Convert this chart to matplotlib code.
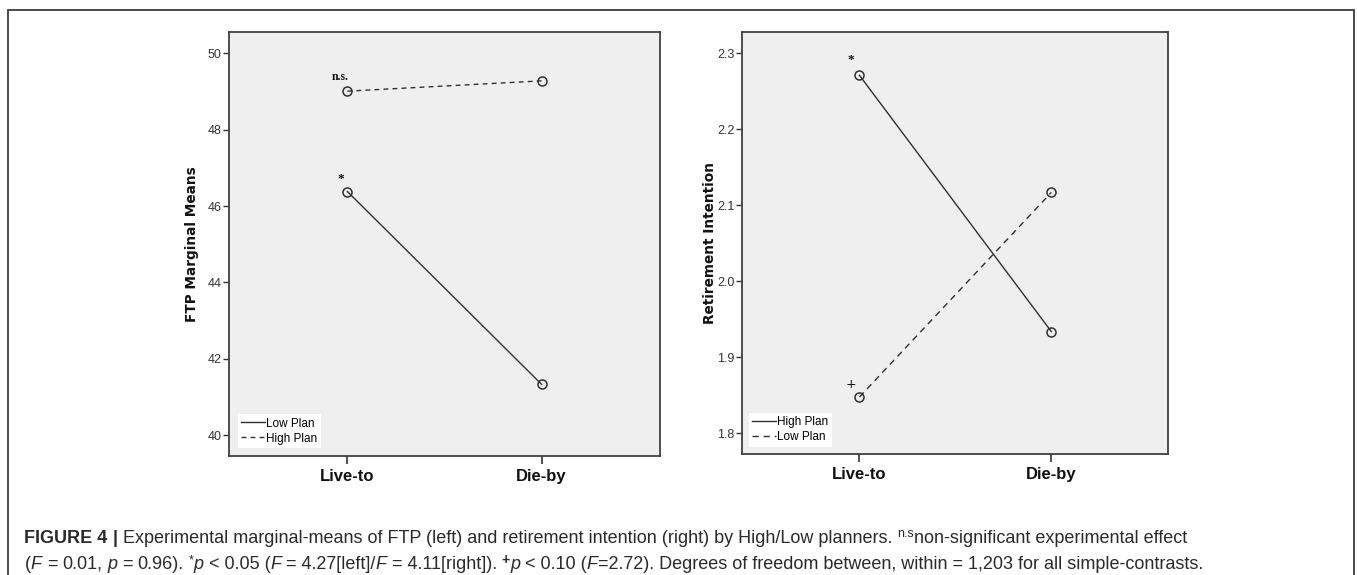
import matplotlib
matplotlib.use("Agg")
import matplotlib.pyplot as plt
from matplotlib.patches import Rectangle

# values
conditions = ["Live-to", "Die-by"]
ftp_low_plan = [46.38, 41.33]
ftp_high_plan = [49.01, 49.28]
ret_high_plan = [2.271, 1.934]
ret_low_plan = [1.848, 2.117]
ftp_ticks = [40, 42, 44, 46, 48, 50]
ret_ticks = [1.8, 1.9, 2.0, 2.1, 2.2, 2.3]

W, H = 1357, 575
NARROW = ['Liberation Sans Narrow', 'Liberation Sans', 'DejaVu Sans']
INK = '#2a2a2a'
LINE = '#303030'

fig = plt.figure(figsize=(W / 100, H / 100), dpi=100)

# outer frame of the figure panel
fig.patches.append(Rectangle((8 / W, -0.02), (1354 - 8) / W, 1.02 - 10 / H,
                             transform=fig.transFigure, fill=False,
                             edgecolor='#3a3a3a', lw=1.3))

ax1 = fig.add_axes([229 / W, 1 - 455.7 / H, 431 / W, 423.7 / H])
ax2 = fig.add_axes([742.4 / W, 1 - 454 / H, 426 / W, 422 / H])


def style_axes(ax, ticks, ylim, ylabel, labelx):
    ax.set_facecolor('#efefef')
    ax.set_xlim(-0.61, 1.61)
    ax.set_ylim(*ylim)
    for s in ax.spines.values():
        s.set_color('#404040')
        s.set_linewidth(1.3)
    ax.set_yticks(ticks, labels=[f"{t:g}" if t != 2.0 else "2.0" for t in ticks],
                  fontfamily=NARROW, fontsize=9, color='#333333')
    ax.set_xticks(range(len(conditions)), labels=conditions,
                  fontfamily=NARROW, fontweight='bold', fontsize=12, color='#111111')
    ax.tick_params(axis='y', length=4, width=1, color='#333333', pad=1.5)
    ax.tick_params(axis='x', length=5.5, width=1.2, color='#333333', pad=4)
    ax.set_ylabel(ylabel, fontweight='bold', fontsize=9.8, color='#111111',
                  family='DejaVu Sans')
    ax.yaxis.set_label_coords(labelx, 0.5)


style_axes(ax1, ftp_ticks, (39.46, 50.56), "FTP Marginal Means", -0.07)
style_axes(ax2, ret_ticks, (1.773, 2.328), "Retirement Intention", -0.06)

x = list(range(len(conditions)))
mk = dict(marker='o', markersize=6.5, markerfacecolor='none',
          markeredgecolor=LINE, markeredgewidth=1.1, color=LINE, lw=1.0)

ax1.plot(x, ftp_low_plan, linestyle='-', label="Low Plan", **mk)
ax1.plot(x, ftp_high_plan, linestyle=(0, (3.5, 3)), label="High Plan", **mk)
ax2.plot(x, ret_high_plan, linestyle='-', label="High Plan", **mk)
ax2.plot(x, ret_low_plan, linestyle=(0, (4.5, 3.5)), label="Low Plan", **mk)

for ax, bx, by in [(ax1, 0.02, 0.018), (ax2, 0.015, 0.017)]:
    leg = ax.legend(loc='lower left', bbox_to_anchor=(bx, by), borderaxespad=0,
                    handlelength=2.0, handletextpad=0.1, labelspacing=0.25,
                    borderpad=0.3, fancybox=False, framealpha=1,
                    prop={'family': NARROW, 'size': 8.5})
    leg.get_frame().set_edgecolor('white')
    leg.get_frame().set_linewidth(0)
    for line in leg.get_lines():
        line.set_marker('')

# significance marks
ax1.annotate("n.s.", (x[0], ftp_high_plan[0]), xytext=(-5, 10), textcoords='offset points',
             ha='center', va='center', fontsize=8.5, fontweight='bold',
             family='Liberation Serif', color='#111111')
ax1.annotate("*", (x[0], ftp_low_plan[0]), xytext=(-5, 9), textcoords='offset points',
             ha='center', va='center', fontsize=9.5, fontweight='bold',
             family='Liberation Serif', color='#111111')
ax2.annotate("*", (x[0], ret_high_plan[0]), xytext=(-6.5, 11), textcoords='offset points',
             ha='center', va='center', fontsize=9.5, fontweight='bold',
             family='Liberation Serif', color='#111111')
ax2.annotate("+", (x[0], ret_low_plan[0]), xytext=(-6, 9), textcoords='offset points',
             ha='center', va='center', fontsize=9, family='DejaVu Sans', color='#111111')

# caption, laid out piece by piece
fig.canvas.draw()
renderer = fig.canvas.get_renderer()


def text_width(s, kw):
    t = fig.text(0, 0, s, **kw)
    w = t.get_window_extent(renderer).width
    t.remove()
    return w


def advance(s, kw):
    return text_width("|" + s + "|", kw) - text_width("||", kw)


def put_runs(x0, base, runs):
    xpos = x0
    for s, kw, dy in runs:
        full = dict(family=NARROW, fontsize=13, color=INK, va='baseline', ha='left')
        full.update(kw)
        lead = s[:len(s) - len(s.lstrip())]
        xl = xpos + (advance(lead, full) if lead else 0)
        fig.text(xl / W, (base + dy) / H, s.strip(), **full)
        xpos += advance(s, full)


B = dict(fontweight='bold')
N = dict()
I = dict(style='italic')
S = dict(fontsize=9)

put_runs(24.5, 32.3, [
    ("FIGURE 4 ", B, 0), ("| ", B, 0),
    ("Experimental marginal-means of FTP (left) and retirement intention (right) by High/Low planners. ", N, 0),
    ("n.s", S, 6), ("non-significant experimental effect", N, 0),
])
put_runs(24.5, 6.3, [
    ("(", N, 0), ("F", I, 0), (" = ", N, 0), ("0.01, ", N, 0), ("p", I, 0),
    (" = ", N, 0), ("0.96). ", N, 0), ("*", S, 5), ("p", I, 0), (" < 0.05 (", N, 0),
    ("F", I, 0), (" = 4.27[left]/", N, 0), ("F", I, 0), (" = 4.11[right]). ", N, 0),
    ("+", dict(fontsize=10, fontweight='bold'), 5), ("p", I, 0), (" < 0.10 (", N, 0),
    ("F", I, 0), ("=2.72). Degrees of freedom between, within = 1,203 for all simple-contrasts.", N, 0),
])

fig.savefig("out.png", dpi=100, facecolor='white')
